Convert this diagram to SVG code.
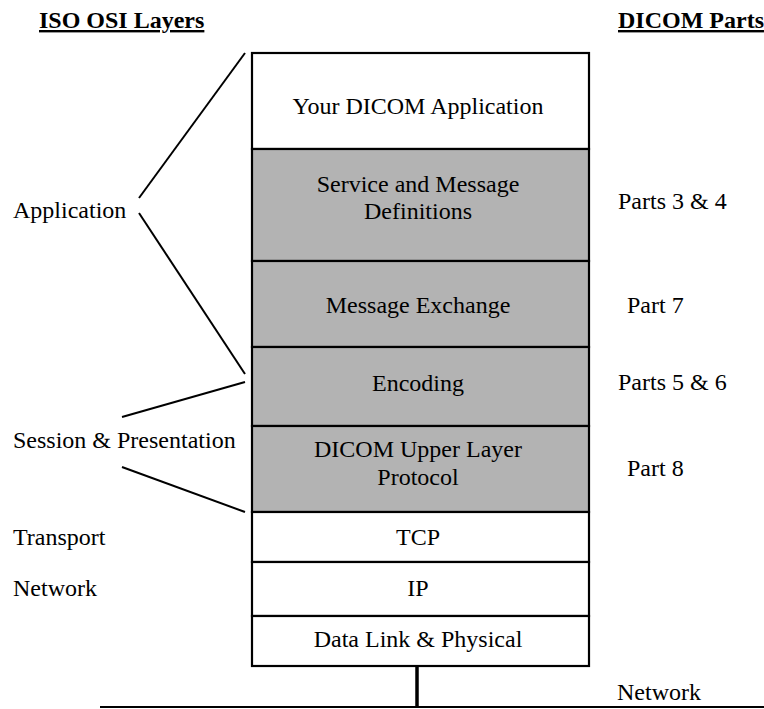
<svg xmlns="http://www.w3.org/2000/svg" width="764" height="709" viewBox="0 0 764 709">
<style>
text{font-family:"Liberation Serif","Times New Roman",serif;font-size:24px;fill:#000}
.h{font-weight:bold;text-decoration:underline}
.c{text-anchor:middle}
.w{fill:#fff;stroke:#000;stroke-width:2.2}
.g{fill:#b3b3b3;stroke:#000;stroke-width:2.2}
.ln{stroke:#000;stroke-width:2;fill:none}
</style>
<rect width="764" height="709" fill="#fff"/>
<text class="h" x="39" y="28">ISO OSI Layers</text>
<text class="h" x="618" y="28">DICOM Parts</text>
<g id="app"><rect class="w" x="252" y="53" width="337" height="96"/><text class="c" x="418" y="114">Your DICOM Application</text></g>
<g id="svc"><rect class="g" x="252" y="149" width="337" height="112"/><text class="c" x="418" y="192">Service and Message</text><text class="c" x="418" y="219">Definitions</text></g>
<g id="msg"><rect class="g" x="252" y="261" width="337" height="86"/><text class="c" x="418" y="313">Message Exchange</text></g>
<g id="enc"><rect class="g" x="252" y="347" width="337" height="79"/><text class="c" x="418" y="391">Encoding</text></g>
<g id="ul"><rect class="g" x="252" y="426" width="337" height="86"/><text class="c" x="418" y="457">DICOM Upper Layer</text><text class="c" x="418" y="485">Protocol</text></g>
<g id="tcp"><rect class="w" x="252" y="512" width="337" height="50"/><text class="c" x="418" y="545">TCP</text></g>
<g id="ip"><rect class="w" x="252" y="562" width="337" height="54"/><text class="c" x="418" y="596">IP</text></g>
<g id="dl"><rect class="w" x="252" y="616" width="337" height="50"/><text class="c" x="418" y="647">Data Link &amp; Physical</text></g>
<g id="labels">
<text x="13" y="218">Application</text>
<text x="13" y="448">Session &amp; Presentation</text>
<text x="13" y="545">Transport</text>
<text x="13" y="596">Network</text>
<text x="618" y="209">Parts 3 &amp; 4</text>
<text x="627" y="313">Part 7</text>
<text x="618" y="390">Parts 5 &amp; 6</text>
<text x="627" y="476">Part 8</text>
<text x="617" y="700">Network</text>
</g>
<g id="connectors">
<line class="ln" x1="245" y1="53" x2="139" y2="198"/>
<line class="ln" x1="139" y1="213" x2="245" y2="374"/>
<line class="ln" x1="245" y1="382" x2="122" y2="417"/>
<line class="ln" x1="122" y1="467" x2="245" y2="512"/>
<line x1="417" y1="666" x2="417" y2="707" stroke="#000" stroke-width="3.5"/>
<line x1="100" y1="707" x2="764" y2="707" stroke="#000" stroke-width="2"/>
</g>
</svg>
